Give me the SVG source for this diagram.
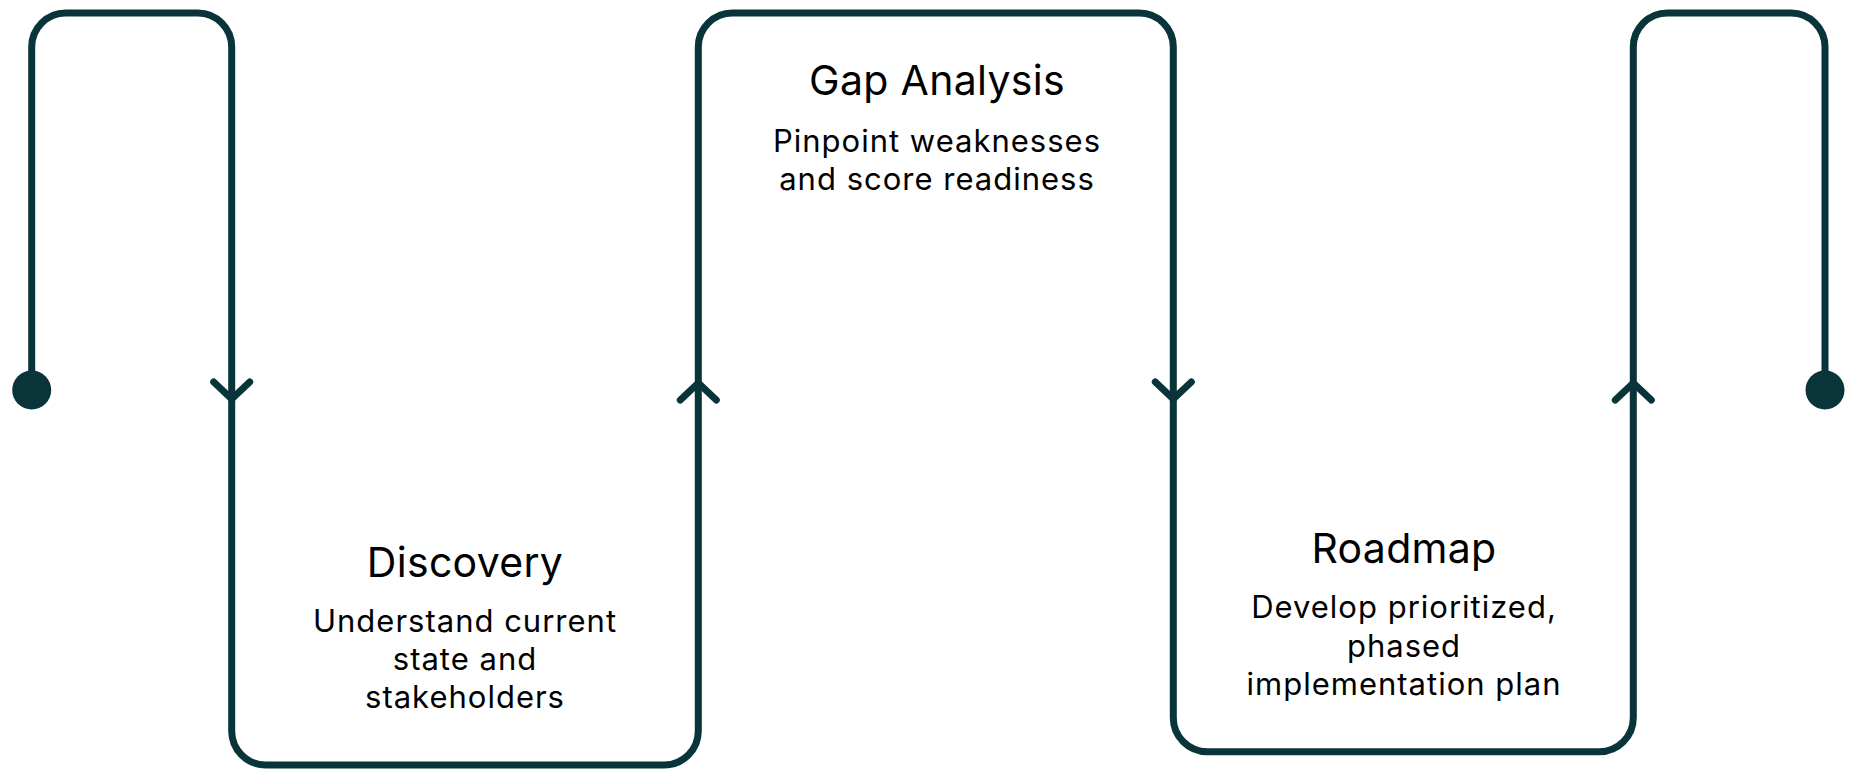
<svg xmlns="http://www.w3.org/2000/svg" width="1851" height="772" viewBox="0 0 1851 772">
<style>
.line{fill:none;stroke:#08343a;stroke-width:7;stroke-linecap:round;stroke-linejoin:round}
.dot{fill:#08343a}
.title{font-family:Inter,"Noto Sans","Liberation Sans",sans-serif;font-size:41px;letter-spacing:0.3px;fill:#000;text-anchor:middle}
.sub{font-family:Inter,"Noto Sans","Liberation Sans",sans-serif;font-size:31px;letter-spacing:1px;fill:#000;text-anchor:middle}
</style>
<rect width="1851" height="772" fill="#fff"/>
<g id="connectors">
<path class="line" d="M31.7,390 V47 A34,34 0 0 1 65.7,13 H197.7 A34,34 0 0 1 231.7,47 V731 A34,34 0 0 0 265.7,765 H664.3 A34,34 0 0 0 698.3,731 V47 A34,34 0 0 1 732.3,13 H1139.3 A34,34 0 0 1 1173.3,47 V717.7 A34,34 0 0 0 1207.3,751.7 H1599.3 A34,34 0 0 0 1633.3,717.7 V47 A34,34 0 0 1 1667.3,13 H1791 A34,34 0 0 1 1825,47 V390"/>
<path class="line" d="M213.7,382 L231.7,399 L249.7,382"/>
<path class="line" d="M1155.3,382 L1173.3,399 L1191.3,382"/>
<path class="line" d="M680.3,400 L698.3,383 L716.3,400"/>
<path class="line" d="M1615.3,400 L1633.3,383 L1651.3,400"/>
<circle class="dot" cx="31.7" cy="390" r="19.5"/>
<circle class="dot" cx="1825" cy="390" r="19.5"/>
</g>
<g id="discovery">
<text class="title" x="465" y="577">Discovery</text>
<text class="sub" x="465" y="632">Understand current</text>
<text class="sub" x="465" y="670">state and</text>
<text class="sub" x="465" y="708">stakeholders</text>
</g>
<g id="gap-analysis">
<text class="title" x="937" y="95">Gap Analysis</text>
<text class="sub" x="937" y="152">Pinpoint weaknesses</text>
<text class="sub" x="937" y="190">and score readiness</text>
</g>
<g id="roadmap">
<text class="title" x="1404" y="563">Roadmap</text>
<text class="sub" x="1404" y="618">Develop prioritized,</text>
<text class="sub" x="1404" y="657">phased</text>
<text class="sub" x="1404" y="695">implementation plan</text>
</g>
</svg>
